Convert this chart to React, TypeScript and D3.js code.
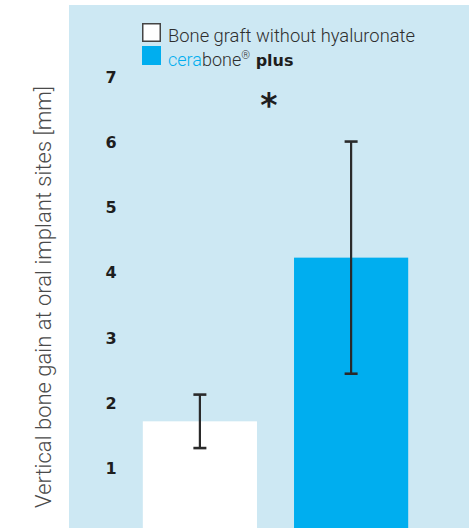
import { useEffect, useRef } from "react";
import * as d3 from "d3";

const groups = ["Bone graft without hyaluronate", "cerabone plus"];
const means = [1.72, 4.23];
const errors = [0.41, 1.78];
const yTicks = [1, 2, 3, 4, 5, 6, 7];
const yTitle = "Vertical bone gain at oral implant sites [mm]";

const W = 473;
const H = 528;
const BLUE = "#00aeef";

function App() {
  const svgRef = useRef<SVGSVGElement>(null);

  useEffect(() => {
    const svg = d3.select(svgRef.current);
    svg.selectAll("*").remove();

    const panel = { left: 69, top: 5, right: 469, bottom: H };

    const x = d3
      .scaleBand()
      .domain(groups)
      .range([105, 446])
      .paddingInner(0.245)
      .paddingOuter(0.25);

    const y = d3.scaleLinear().domain([0, 7]).range([533.5, 77]);

    svg
      .append("rect")
      .attr("x", panel.left)
      .attr("y", panel.top)
      .attr("width", panel.right - panel.left)
      .attr("height", panel.bottom - panel.top)
      .attr("fill", "#cde8f3");

    // bars
    svg
      .selectAll(".bar")
      .data(groups)
      .enter()
      .append("rect")
      .attr("x", (d) => x(d)!)
      .attr("y", (_, i) => y(means[i]))
      .attr("width", x.bandwidth())
      .attr("height", (_, i) => H - y(means[i]))
      .attr("fill", (_, i) => (i === 0 ? "#ffffff" : BLUE));

    // error bars
    const cap = 6.5;
    groups.forEach((g, i) => {
      const cx = x(g)! + x.bandwidth() / 2;
      const hi = y(means[i] + errors[i]);
      const lo = y(means[i] - errors[i]);
      const eg = svg
        .append("g")
        .attr("stroke", "#2a2a2a")
        .attr("stroke-width", 2.2);
      eg.append("line").attr("x1", cx).attr("x2", cx).attr("y1", hi).attr("y2", lo);
      [hi, lo].forEach((yy) =>
        eg
          .append("line")
          .attr("x1", cx - cap)
          .attr("x2", cx + cap)
          .attr("y1", yy)
          .attr("y2", yy)
          .attr("stroke-width", 2.6)
      );
    });

    // y tick labels
    svg
      .append("g")
      .selectAll("text")
      .data(yTicks)
      .enter()
      .append("text")
      .attr("x", 111)
      .attr("y", (d) => y(d))
      .attr("dy", "0.36em")
      .attr("text-anchor", "middle")
      .attr("font-family", "'DejaVu Sans', sans-serif")
      .attr("font-weight", 700)
      .attr("font-size", 16)
      .attr("fill", "#1e1e1e")
      .text((d) => d);

    // y title
    svg
      .append("text")
      .attr("transform", `translate(51,${(86 + 508) / 2}) rotate(-90)`)
      .attr("text-anchor", "middle")
      .attr("font-family", "Roboto, 'Liberation Sans', sans-serif")
      .attr("font-weight", 300)
      .attr("font-size", 22)
      .attr("fill", "#4a4a4a")
      .attr("textLength", 422)
      .attr("lengthAdjust", "spacingAndGlyphs")
      .text(yTitle);

    // significance star
    svg
      .append("text")
      .attr("x", 269)
      .attr("y", 117)
      .attr("text-anchor", "middle")
      .attr("font-family", "'DejaVu Sans', sans-serif")
      .attr("font-weight", 700)
      .attr("font-size", 33)
      .attr("fill", "#1e1e1e")
      .text("*");

    // legend
    const legend = svg.append("g").attr("transform", "translate(142,23)");
    legend
      .append("rect")
      .attr("x", 0.75)
      .attr("y", 0.75)
      .attr("width", 17.5)
      .attr("height", 17.5)
      .attr("fill", "#fff")
      .attr("stroke", "#444")
      .attr("stroke-width", 1.5);
    legend
      .append("rect")
      .attr("x", 0)
      .attr("y", 23)
      .attr("width", 19)
      .attr("height", 19)
      .attr("fill", BLUE);

    legend
      .append("text")
      .attr("x", 26)
      .attr("y", 19)
      .attr("font-family", "Roboto, 'Liberation Sans', sans-serif")
      .attr("font-weight", 300)
      .attr("font-size", 18)
      .attr("fill", "#2e2e2e")
      .attr("textLength", 247)
      .attr("lengthAdjust", "spacingAndGlyphs")
      .text(groups[0]);

    const t2 = legend
      .append("text")
      .attr("x", 26)
      .attr("y", 43)
      .attr("font-family", "Roboto, 'Liberation Sans', sans-serif")
      .attr("font-weight", 300)
      .attr("font-size", 18)
      .attr("fill", "#2e2e2e");
    t2.append("tspan").attr("fill", BLUE).text("cera");
    t2.append("tspan").text("bone");
    t2.append("tspan").attr("font-size", 11).attr("dy", -7).text("®");
    t2.append("tspan")
      .attr("dy", 7)
      .attr("font-family", "'DejaVu Sans', sans-serif")
      .attr("font-weight", 700)
      .attr("font-size", 16)
      .attr("fill", "#1e1e1e")
      .text(" plus");
  }, []);

  return (
    <svg
      ref={svgRef}
      width={W}
      height={H}
      style={{ position: "absolute", left: 0, top: 0, background: "#fff" }}
    />
  );
}

export default App;
